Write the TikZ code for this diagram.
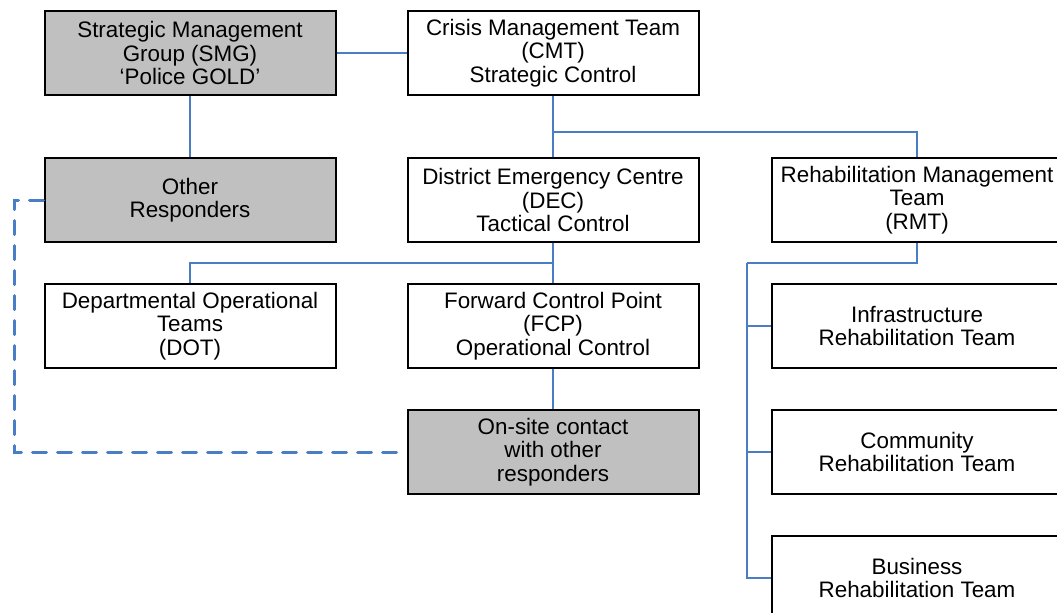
\documentclass[tikz,border=0pt]{standalone}
\usepackage{fontspec}
\setmainfont{Liberation Sans}
\usepackage{tikz}
\usetikzlibrary{positioning}
\definecolor{linkblue}{HTML}{4A7EC4}
\definecolor{boxgray}{HTML}{C0C0C0}
\tikzstyle{team} = [rectangle, draw, line width=1.5pt, minimum width=218.25pt, minimum height=63pt, inner sep=0pt, align=center, font=\fontsize{16.8}{17.6}\selectfont]
\tikzstyle{outside} = [team, fill=boxgray]
\tikzstyle{link} = [line width=1.5pt, linkblue]
\tikzstyle{contact} = [link, line width=2.25pt, line cap=round, dash pattern=on 10.5pt off 8.25pt]

\begin{document}
\begin{tikzpicture}[x=0.75pt, y=-0.75pt]
        \clip (0,0) rectangle (1057,612);
        \node (smg) [outside] at (190,53) {Strategic Management\\Group (SMG)\\`Police GOLD'};
        \node (cmt) [team] at (553,53) {Crisis Management Team\\(CMT)\\Strategic Control};
        \node (other) [outside] at (190,200) {Other\\Responders};
        \node (dec) [team] at (553,200) {District Emergency Centre\\(DEC)\\Tactical Control};
        \node (rmt) [team] at (917,200) {Rehabilitation Management\\Team\\(RMT)};
        \node (dot) [team] at (190,326) {Departmental Operational\\Teams\\(DOT)};
        \node (fcp) [team] at (553,326) {Forward Control Point\\(FCP)\\Operational Control};
        \node (infra) [team] at (917,326) {Infrastructure\\Rehabilitation Team};
        \node (onsite) [outside] at (553,452) {On-site contact\\with other\\responders};
        \node (community) [team] at (917,452) {Community\\Rehabilitation Team};
        \node (business) [team] at (917,578) {Business\\Rehabilitation Team};
        \coordinate (cmtbus) at (553,132);
        \coordinate (decbus) at (553,263);
        \coordinate (rmtbus) at (747,263);
        \coordinate (loop) at (14,452);
        \draw [link] (smg) -- (cmt);
        \draw [link] (smg) -- (other);
        \draw [link] (cmt) -- (dec);
        \draw [link] (cmtbus) -| (rmt);
        \draw [link] (dec) -- (fcp);
        \draw [link] (decbus) -| (dot);
        \draw [link] (fcp) -- (onsite);
        \draw [link] (rmt) |- (rmtbus);
        \draw [link] (rmtbus) |- (infra);
        \draw [link] (rmtbus) |- (community);
        \draw [link] (rmtbus) |- (business);
        \draw [contact] (other) -| (loop) -- (onsite);
    \end{tikzpicture}
\end{document}
